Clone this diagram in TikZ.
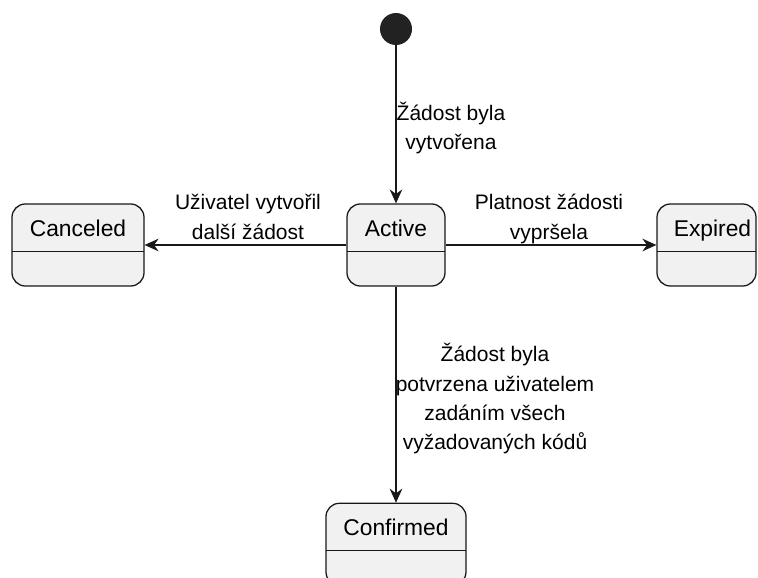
\documentclass[tikz,border=0pt]{standalone}
\usepackage{fontspec}
\setmainfont{Liberation Sans}
\usetikzlibrary{arrows.meta}
\definecolor{inkline}{HTML}{181818}
\definecolor{boxfill}{HTML}{F1F1F1}
\definecolor{dotfill}{HTML}{222222}
\tikzset{
  statebox/.style={draw=inkline, fill=boxfill, line width=0.95pt,
    rounded corners=10pt, minimum height=61.5pt, inner sep=0pt,
    font=\fontsize{17.1}{20}\selectfont, text height=12pt, text depth=24.5pt,
    path picture={\draw[inkline, line width=0.75pt]
      ([yshift=-5pt]path picture bounding box.west) --
      ([yshift=-5pt]path picture bounding box.east);}},
  startdot/.style={circle, fill=dotfill, minimum size=24pt, inner sep=0pt},
  trans/.style={draw=inkline, line width=1.1pt,
    -{Stealth[length=10.5pt, width=9.5pt, inset=3.5pt]}},
  edgetext/.style={align=center, inner sep=0pt,
    font=\fontsize{15.75}{22}\selectfont}
}
\begin{document}
\begin{tikzpicture}[x=0.75pt, y=-0.75pt]
  \useasboundingbox (0,0) rectangle (758,578);

  % states
  \node[startdot] (start) at (396,29) {};
  \node[statebox, minimum width=73.5pt] (active) at (396,245) {Active};
  \node[statebox, minimum width=99pt] (canceled) at (78,245) {Canceled};
  \node[statebox, minimum width=74.25pt] (expired) at (706.5,245) {\hspace*{9pt}Expired};
  \node[statebox, minimum width=105pt] (confirmed) at (396,544.3) {Confirmed};

  % transitions
  \draw[trans] (start) -- (active);
  \draw[trans] (active) -- (canceled);
  \draw[trans] (active) -- (expired);
  \draw[trans] (active) -- (confirmed);

  % transition labels
  \node[edgetext] (lblcreated) at (451,128) {Žádost byla\\vytvořena};
  \node[edgetext] (lblcanceled) at (248,217) {Uživatel vytvořil\\další žádost};
  \node[edgetext] (lblexpired) at (549,219) {Platnost žádosti\\vypršela};
  \node[edgetext] (lblconfirmed) at (495,398.7) {Žádost byla\\potvrzena uživatelem\\zadáním všech\\vyžadovaných kódů};
\end{tikzpicture}
\end{document}
